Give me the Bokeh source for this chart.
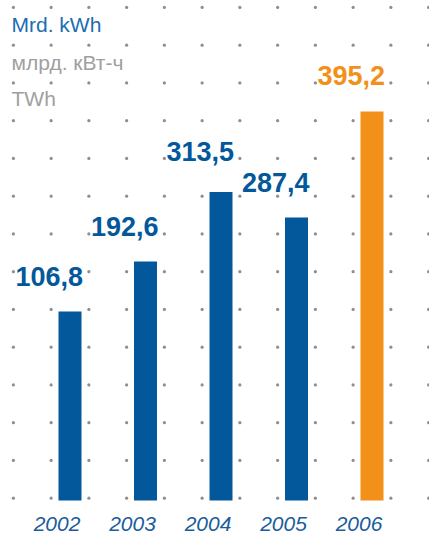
import numpy as np
from bokeh.plotting import figure
from bokeh.models import ColumnDataSource, Range1d, Label
from bokeh.core.properties import value
from bokeh.embed import file_html
from bokeh.resources import INLINE

# ---- data ----
years = ["2002", "2003", "2004", "2005", "2006"]
values = [106.8, 192.6, 313.5, 287.4, 395.2]          # printed values (Mrd. kWh)
value_labels = ["106,8", "192,6", "313,5", "287,4", "395,2"]
# bar lengths as drawn in the reference (2002/2003 are not drawn to scale there)
bar_heights = [192.0, 242.8, 313.5, 287.4, 395.2]
unit_lines = ["Mrd. kWh", "млрд. кВт-ч", "TWh"]

# ---- styles ----
BLUE = "#03589b"
ORANGE = "#f39019"
GREY_TXT = "#a0a0a0"
UNIT_BLUE = "#1b6db3"
YEAR_BLUE = "#1b5d9a"
DOT = "#8e8e8e"
colors = [BLUE, BLUE, BLUE, BLUE, ORANGE]
SHIFT = 8   # compensation for text baseline rendering
label_offsets = [-26.7 - SHIFT, -26.7 - SHIFT, -32.7 - SHIFT, -27.4 - SHIFT, -27.7 - SHIFT]

W, H = 429, 536
BASE = 500          # pixel row of bar bottoms
CX0 = 69.5          # pixel column of first bar centre
px_per_unit = 389 / 395.2
y0 = -(H - BASE) / px_per_unit
y1 = BASE / px_per_unit
x_step = 75.5
x0 = -CX0 / x_step
x1 = (W - CX0) / x_step

p = figure(width=W, height=H, output_backend="svg", toolbar_location=None,
           x_range=Range1d(x0, x1), y_range=Range1d(y0, y1),
           min_border=0, min_border_left=0, min_border_right=0,
           min_border_top=0, min_border_bottom=0)
p.axis.visible = False
p.grid.visible = False
p.outline_line_color = None
p.background_fill_color = "white"
p.border_fill_color = "white"

# dotted grid
gx = np.arange(-0.75, 4.76, 0.5)
gy = (2.3 + 37.75 * np.arange(0, 14)) / px_per_unit
GX, GY = np.meshgrid(gx, gy)
p.scatter(GX.ravel(), GY.ravel(), size=3.2, color=DOT, line_color=None, marker="circle")

xs = list(range(len(years)))
src = ColumnDataSource(dict(
    x=xs, h=bar_heights, v=values, lab=value_labels, yr=years, c=colors,
    lx=[i - 0.275 for i in xs], yx=[i - 0.172 for i in xs],
    off=label_offsets, zero=[0] * len(xs)))

p.vbar(x="x", top="h", bottom=0, width=23 / x_step, fill_color="c",
       line_color=None, source=src)

p.text(x="lx", y="h", text="lab", y_offset="off", text_color="c",
       text_font=value("Liberation Sans"), text_font_style="bold",
       text_font_size="27px", text_align="center", text_baseline="alphabetic",
       source=src)

p.text(x="yx", y="zero", text="yr", y_offset=31 - SHIFT, text_color=YEAR_BLUE,
       text_font=value("Liberation Sans"), text_font_style="italic",
       text_font_size="21px", text_align="center", text_baseline="alphabetic",
       source=src)

unit_colors = [UNIT_BLUE, GREY_TXT, GREY_TXT]
unit_base = [H - 31.7 + SHIFT, H - 70 + SHIFT, H - 106 + SHIFT]
for t, c, b in zip(unit_lines, unit_colors, unit_base):
    p.add_layout(Label(x=11, y=b, x_units="screen", y_units="screen", text=t,
                       text_color=c, text_font="Liberation Sans",
                       text_font_size="21px", text_baseline="alphabetic"))

open("out.html", "w").write(file_html(p, INLINE))
